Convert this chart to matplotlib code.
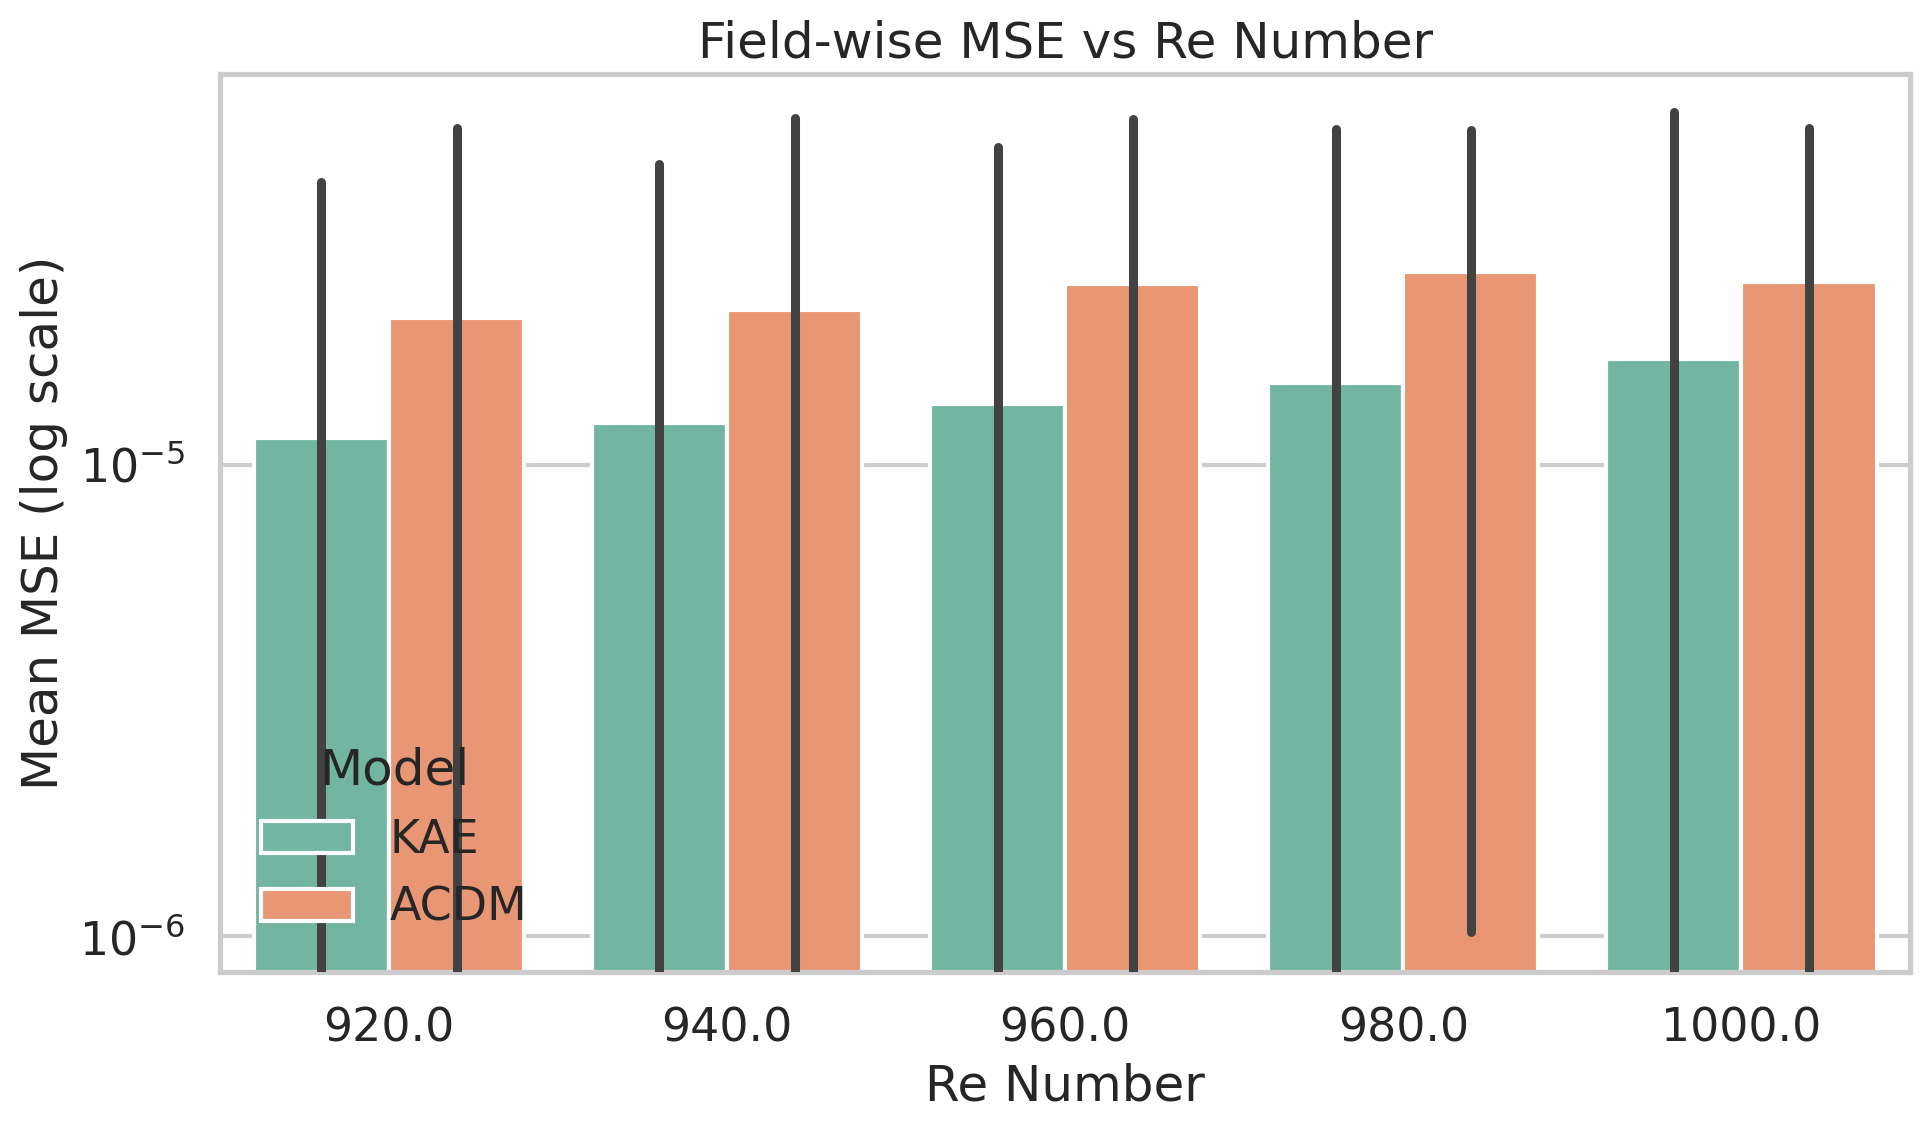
import numpy as np
import matplotlib
matplotlib.use("Agg")
import matplotlib.pyplot as plt
import seaborn as sns

# Re numbers (categories on the x axis)
re_labels = ["920.0", "940.0", "960.0", "980.0", "1000.0"]
models = ["KAE", "ACDM"]

# Mean field-wise MSE per model
kae_mean = [1.14e-5, 1.23e-5, 1.35e-5, 1.49e-5, 1.68e-5]
acdm_mean = [2.05e-5, 2.13e-5, 2.42e-5, 2.57e-5, 2.45e-5]

# Error bar ends; lower ends below the axis are clipped in the original
kae_hi = [3.99e-5, 4.36e-5, 4.74e-5, 5.16e-5, 5.62e-5]
kae_lo = [1e-7, 1e-7, 1e-7, 1e-7, 1e-7]
acdm_hi = [5.19e-5, 5.45e-5, 5.42e-5, 5.13e-5, 5.19e-5]
acdm_lo = [1e-7, 1e-7, 1e-7, 1.02e-6, 1e-7]

sns.set_theme(style="whitegrid", context="talk")

palette = [sns.desaturate(c, 0.75) for c in sns.color_palette("Set2", 2)]

fig = plt.figure(figsize=(9.65, 5.655), dpi=200)
ax = fig.add_axes([0.114, 0.1406, 0.8758, 0.794])

x = np.arange(len(re_labels))
width = 0.4
means = [kae_mean, acdm_mean]
his = [kae_hi, acdm_hi]
los = [kae_lo, acdm_lo]

for i, model in enumerate(models):
    pos = x - 0.2 + i * width
    ax.bar(pos, means[i], width=width, color=palette[i], edgecolor="white",
           label=model, zorder=2)
    for xp, lo, hi in zip(pos, los[i], his[i]):
        ax.plot([xp, xp], [lo, hi], color=".26", linewidth=3.25,
                solid_capstyle="round", zorder=3)

ax.set_yscale("log")
ax.set_ylim(8.4e-7, 6.76e-5)
ax.set_xlim(-0.5, 4.5)
ax.set_xticks(x)
ax.set_xticklabels(re_labels)
ax.xaxis.grid(False)
ax.yaxis.grid(True, which="major")
ax.yaxis.grid(False, which="minor")

ax.set_title("Field-wise MSE vs Re Number")
ax.set_xlabel("Re Number")
ax.set_ylabel("Mean MSE (log scale)")

ax.legend(title="Model", loc="lower left", frameon=False)

fig.savefig("out.png", dpi=200)
